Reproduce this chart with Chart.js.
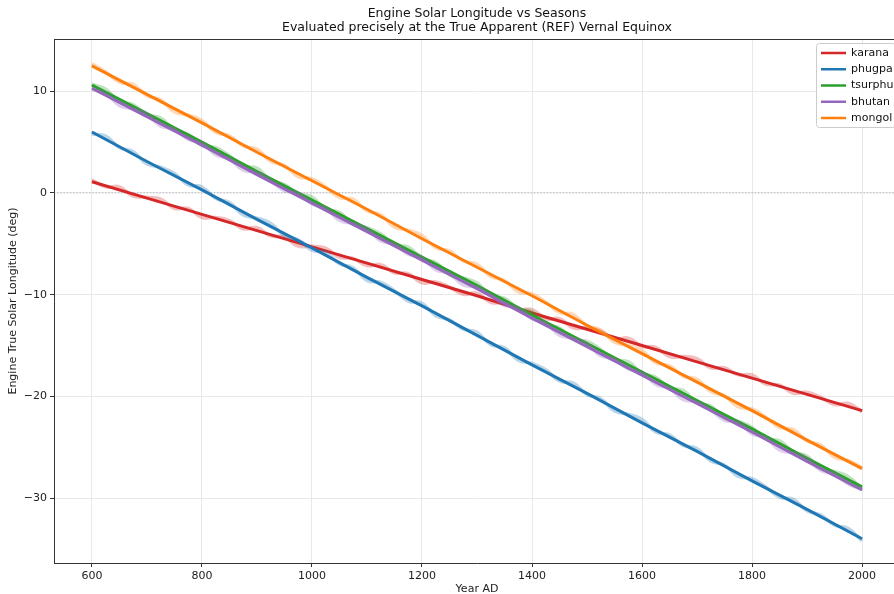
<!DOCTYPE html>
<html>
<head>
<meta charset="utf-8">
<script src="https://cdn.jsdelivr.net/npm/chart.js@4/dist/chart.umd.min.js"></script>
<style>
  html, body { margin: 0; padding: 0; background: #fff; overflow: hidden; }
  #wrap { width: 954px; height: 594px; }
</style>
</head>
<body>
<div id="wrap"><canvas id="chart" width="954" height="594"></canvas></div>
<script>
// 数据: 年份与各引擎的太阳黄经
const meanYears = [600, 700, 800, 900, 1000, 1100, 1200, 1300, 1400, 1500, 1600, 1700, 1800, 1900, 2000];
const rawYears = [600, 625, 650, 675, 700, 725, 750, 775, 800, 825, 850, 875, 900, 925, 950, 975,
  1000, 1025, 1050, 1075, 1100, 1125, 1150, 1175, 1200, 1225, 1250, 1275, 1300, 1325, 1350, 1375,
  1400, 1425, 1450, 1475, 1500, 1525, 1550, 1575, 1600, 1625, 1650, 1675, 1700, 1725, 1750, 1775,
  1800, 1825, 1850, 1875, 1900, 1925, 1950, 1975, 2000];

const seriesNames = ['karana', 'phugpa', 'tsurphu', 'bhutan', 'mongol'];
const seriesColors = ['#d62728', '#1f77b4', '#2ca02c', '#9467bd', '#ff7f0e'];

const karanaMean = [1.1, -0.5, -2.1, -3.7, -5.3, -6.9, -8.5, -10.1, -11.8, -13.4, -15.0, -16.6, -18.2, -19.8, -21.4];
const phugpaMean = [6.0, 3.1, 0.3, -2.6, -5.4, -8.3, -11.1, -14.0, -16.9, -19.7, -22.6, -25.4, -28.3, -31.1, -34.0];
const tsurphuMean = [10.6, 7.8, 5.0, 2.1, -0.7, -3.5, -6.3, -9.1, -12.0, -14.8, -17.6, -20.4, -23.2, -26.1, -28.9];
const bhutanMean = [10.3, 7.5, 4.7, 1.8, -1.0, -3.8, -6.6, -9.4, -12.3, -15.1, -17.9, -20.7, -23.5, -26.4, -29.2];
const mongolMean = [12.5, 9.7, 6.9, 4.0, 1.2, -1.6, -4.5, -7.3, -10.1, -13.0, -15.8, -18.6, -21.4, -24.3, -27.1];

const karanaRaw = [1.30, 0.60, 0.60, -0.31, -0.41, -0.61, -1.51, -1.51, -2.41, -2.42, -2.72, -3.52, -3.42, -4.22,
  -4.33, -5.23, -5.23, -5.43, -6.33, -6.43, -7.14, -7.04, -7.84, -7.94, -8.84, -8.74, -9.25, -9.95, -9.85,
  -10.75, -10.85, -11.46, -11.46, -12.36, -12.36, -13.26, -13.26, -13.57, -14.37, -14.27, -15.07, -15.17,
  -16.08, -16.08, -16.28, -17.18, -17.18, -17.88, -17.89, -18.79, -18.89, -19.69, -19.59, -20.09, -20.80,
  -20.70, -21.50];
const phugpaRaw = [5.80, 5.59, 4.47, 4.06, 2.84, 2.53, 1.91, 0.80, 0.59, -0.53, -0.94, -2.16, -2.47, -2.99,
  -4.20, -4.61, -5.63, -5.84, -6.96, -7.37, -8.59, -8.80, -9.61, -10.63, -10.84, -12.06, -12.47, -13.39,
  -13.70, -14.91, -15.23, -16.44, -16.76, -17.37, -18.49, -18.70, -19.81, -20.23, -21.44, -21.76, -22.27,
  -23.49, -23.80, -24.81, -25.13, -26.34, -26.76, -27.87, -28.09, -28.90, -29.91, -30.13, -31.24, -31.66,
  -32.67, -32.99, -34.20];
const tsurphuRaw = [10.70, 10.19, 8.99, 8.68, 7.68, 7.37, 6.17, 5.76, 4.66, 4.45, 3.65, 2.64, 2.44, 1.23,
  0.82, -0.08, -0.39, -1.59, -1.90, -3.10, -3.41, -4.01, -5.12, -5.32, -6.43, -6.84, -8.04, -8.35, -8.85,
  -10.06, -10.36, -11.37, -11.67, -12.88, -13.28, -14.39, -14.59, -15.40, -16.41, -16.61, -17.72, -18.12,
  -19.13, -19.43, -20.64, -20.94, -22.15, -22.45, -23.06, -24.16, -24.37, -25.48, -25.88, -27.09, -27.39,
  -27.90, -29.10];
const bhutanRaw = [10.20, 9.79, 8.59, 8.28, 7.78, 6.57, 6.27, 5.26, 4.96, 3.75, 3.35, 2.24, 2.04, 1.23,
  0.22, 0.02, -1.09, -1.49, -2.70, -3.00, -3.51, -4.71, -5.02, -6.02, -6.33, -7.54, -7.94, -9.05, -9.25,
  -10.06, -11.06, -11.27, -12.37, -12.78, -13.98, -14.29, -14.79, -16.00, -16.31, -17.31, -17.62, -18.82,
  -19.23, -20.33, -20.54, -21.34, -22.35, -22.55, -23.66, -24.06, -25.27, -25.58, -26.08, -27.29, -27.59,
  -28.60, -29.10];
const mongolRaw = [12.70, 11.89, 10.89, 10.68, 9.57, 9.16, 7.96, 7.65, 7.14, 5.94, 5.63, 4.62, 4.31, 3.11,
  2.70, 1.59, 1.39, 0.58, -0.43, -0.63, -1.74, -2.15, -3.36, -3.66, -4.17, -5.38, -5.69, -6.69, -7.00,
  -8.21, -8.61, -9.72, -9.93, -10.74, -11.74, -11.95, -13.06, -13.46, -14.67, -14.98, -15.49, -16.69,
  -17.00, -18.01, -18.31, -19.52, -19.93, -21.04, -21.24, -22.05, -23.06, -23.26, -24.37, -24.78, -25.99,
  -26.29, -27.00];

const xTicks = [600, 800, 1000, 1200, 1400, 1600, 1800, 2000];
const yTicks = [-30, -20, -10, 0, 10];
const titleLines = ['Engine Solar Longitude vs Seasons', 'Evaluated precisely at the True Apparent (REF) Vernal Equinox'];

const meanSeries = [karanaMean, phugpaMean, tsurphuMean, bhutanMean, mongolMean];
const rawSeries = [karanaRaw, phugpaRaw, tsurphuRaw, bhutanRaw, mongolRaw];

const toPoints = (xs, ys) => xs.map((x, i) => ({ x: x, y: ys[i] }));
const fade = (hex, a) => {
  const n = parseInt(hex.slice(1), 16);
  return 'rgba(' + (n >> 16) + ',' + ((n >> 8) & 255) + ',' + (n & 255) + ',' + a + ')';
};

// 每个系列: 先画淡色原始曲线, 再画粗的均值线 (后画的在上面)
const datasets = [];
let drawIdx = 0;
seriesNames.forEach((name, i) => {
  datasets.push({
    label: name + ' raw',
    data: toPoints(rawYears, rawSeries[i]),
    borderColor: fade(seriesColors[i], 0.3),
    borderWidth: 3.5,
    tension: 0.45,
    pointRadius: 0,
    order: 100 - drawIdx++
  });
  datasets.push({
    label: name,
    data: toPoints(meanYears, meanSeries[i]),
    borderColor: seriesColors[i],
    borderWidth: 3,
    tension: 0,
    pointRadius: 0,
    order: 100 - drawIdx++
  });
});

// 标题(居中于绘图区) + 零线 + 顶部边框 + 图例
const decorations = {
  id: 'decorations',
  beforeDatasetsDraw(chart) {
    const { ctx, chartArea, scales } = chart;
    const y0 = scales.y.getPixelForValue(0);
    ctx.save();
    ctx.strokeStyle = 'rgba(110,120,130,0.7)';
    ctx.lineWidth = 0.8;
    ctx.setLineDash([1.2, 2]);
    ctx.beginPath();
    ctx.moveTo(chartArea.left, y0);
    ctx.lineTo(chartArea.right, y0);
    ctx.stroke();
    ctx.restore();
  },
  afterDraw(chart) {
    const { ctx, chartArea } = chart;
    ctx.save();
    ctx.fillStyle = '#111';
    ctx.font = '12.5px "DejaVu Sans"';
    ctx.textAlign = 'center';
    ctx.textBaseline = 'middle';
    const cx = (chartArea.left + chartArea.right) / 2;
    ctx.fillText(titleLines[0], cx, 14);
    ctx.fillText(titleLines[1], cx, 28);

    ctx.strokeStyle = '#333';
    ctx.lineWidth = 1;
    ctx.beginPath();
    ctx.moveTo(chartArea.left, chartArea.top + 0.5);
    ctx.lineTo(chartArea.right, chartArea.top + 0.5);
    ctx.stroke();

    const bx = chartArea.right - 84, by = chartArea.top + 4, bw = 79, bh = 84;
    ctx.fillStyle = 'rgba(255,255,255,0.85)';
    ctx.strokeStyle = '#cccccc';
    ctx.beginPath();
    ctx.roundRect(bx + 0.5, by + 0.5, bw, bh, 3);
    ctx.fill();
    ctx.stroke();
    ctx.font = '11px "DejaVu Sans"';
    ctx.textAlign = 'left';
    ctx.textBaseline = 'middle';
    ctx.fillStyle = '#111';
    seriesNames.forEach((name, i) => {
      const ry = by + 10 + i * 16.25;
      ctx.strokeStyle = seriesColors[i];
      ctx.lineWidth = 2.5;
      ctx.beginPath();
      ctx.moveTo(bx + 5, ry);
      ctx.lineTo(bx + 30, ry);
      ctx.stroke();
      ctx.fillText(name, bx + 35, ry);
    });
    ctx.restore();
  }
};

Chart.defaults.font.family = '"DejaVu Sans", sans-serif';
Chart.defaults.color = '#222';

new Chart(document.getElementById('chart'), {
  type: 'line',
  data: { datasets: datasets },
  plugins: [decorations],
  options: {
    responsive: false,
    animation: false,
    layout: { padding: { left: 0, right: 54, top: 39, bottom: 0 } },
    plugins: {
      legend: { display: false },
      tooltip: { enabled: false },
      title: { display: false }
    },
    scales: {
      x: {
        type: 'linear',
        min: 531,
        max: 2069,
        afterBuildTicks: (axis) => { axis.ticks = xTicks.map(v => ({ value: v })); },
        afterFit: (axis) => { axis.height = 31; },
        ticks: { font: { size: 11 }, padding: 3, maxRotation: 0, callback: (v) => String(v) },
        grid: { color: '#e8e8e8', tickColor: '#333', tickLength: 4 },
        border: { color: '#333', width: 1 },
        title: { display: true, text: 'Year AD', font: { size: 11, lineHeight: 0.8 }, padding: 0 }
      },
      y: {
        type: 'linear',
        min: -36.38,
        max: 15.14,
        afterBuildTicks: (axis) => { axis.ticks = yTicks.map(v => ({ value: v })); },
        afterFit: (axis) => { axis.width = 54; },
        ticks: {
          font: { size: 11 },
          padding: 3,
          callback: (v) => (v < 0 ? '\u2212' + Math.abs(v) : String(v))
        },
        grid: { color: '#e8e8e8', tickColor: '#333', tickLength: 4 },
        border: { color: '#333', width: 1 },
        title: { display: true, text: 'Engine True Solar Longitude (deg)', font: { size: 11 }, padding: { top: 7, bottom: 0 } }
      }
    }
  }
});
</script>
</body>
</html>
